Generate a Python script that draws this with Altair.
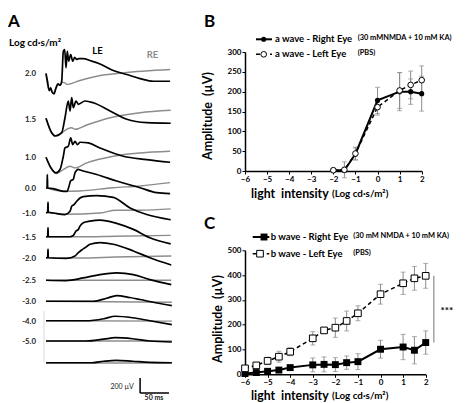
import altair as alt
import pandas as pd

FONT = "Lato"
GRAY = "#8c8c8c"
NB = "\u00a0"

# ---------------- Panel A: ERG traces (t in ms, amplitude in µV relative to baseline)
levels = ["2.0", "1.5", "1.0", "0.0", "-1.0", "-1.5", "-2.0", "-2.5", "-3.0", "-4.0", "-5.0", ""]
offsets = [-430, -1040, -1550, -1960, -2290, -2610, -2890, -3190, -3470, -3730, -4000, -4290]

LE_20 = [(0, -4), (2.3, -97), (5.7, -231), (8.1, -196), (10.4, -249), (13.9, -276), (17.3, -196),
         (20.8, -143), (24.3, -160), (27.2, -107), (30, 293), (32.4, 316), (34.7, 71), (36.9, 293),
         (39.3, 160), (42.8, 249), (46.3, 160), (49.7, 213), (53.2, 183), (56.7, 196), (64.6, 196),
         (76.3, 169), (93.6, 124), (116.6, 36), (139.8, -17), (162.9, -71), (186, -107), (215, -107)]
RE_20 = [(0, 0), (1.4, -93), (5.7, -227), (8.1, -200), (10.4, -253), (12.7, -263), (17.3, -200),
         (20.8, -147), (24.3, -160), (27.7, -120), (32.9, -129), (36, -150), (41.6, -143),
         (58.9, -97), (87.8, -40), (133, 4), (215, 49)]
LE_15 = [(0, 10), (9.8, -183), (15.6, -227), (27.2, -183), (32.9, 17), (38.6, 240), (41.6, 107),
         (44.5, 284), (47.3, 151), (52, 240), (56, 196), (67.6, 240), (82, 217), (111, 107),
         (140, -4), (174.5, -49), (216, -57)]
RE_15 = [(0, 10), (9.8, -183), (18.5, -227), (35.9, -137), (44.5, -116), (50.3, -137),
         (70.5, -80), (111, 17), (163, 84), (216, 116)]
LE_10 = [(0, 0), (8.7, -144), (17.3, -209), (24.3, -164), (30, 13), (32.9, 124), (38.6, 147),
         (42.8, 258), (46.3, 169), (50.3, 213), (54.3, 169), (59, 200), (73.4, 191), (93.6, 124),
         (133.9, 13), (174.5, -31), (215, -67)]
RE_10 = [(0, 0), (8.7, -144), (18.5, -217), (30, -164), (41.6, -120), (50.3, -142), (70.5, -76),
         (116.6, 13), (163, 57), (215, 80)]
LE_00 = [(0, 0), (2, 0), (2.3, 180), (2.8, 0), (12.7, -9), (30, -44), (36.4, -44), (40, 27),
         (42.5, 93), (47.3, 116), (50.3, 204), (56, 249), (59, 240), (64.6, 227), (87.8, 180),
         (122.4, 93), (162.9, 4), (191.7, -62), (215, -76)]
RE_00 = [(0, 0), (2, 0), (2.3, 180), (2.8, 0), (30, -44), (59, -40), (116, 4), (163, 27), (215, 71)]
LE_M10 = [(0, 0), (2.9, 7), (3.5, 140), (4, 7), (12.7, -3), (32.9, -24), (41.6, 20), (44.5, 87),
          (48.5, 109), (53.2, 153), (58.9, 196), (64.6, 216), (87.8, 229), (116.6, 204),
          (145.6, 64), (174.5, -24), (216, -93)]
RE_M10 = [(0, 0), (2.9, 7), (3.5, 140), (4, 7), (12.7, -3), (32.9, -20), (93.6, -3), (121, 33),
          (162.9, 33), (216, 51)]
LE_M15 = [(0, 0), (2.9, 0), (3.5, 120), (4, 0), (41.6, 0), (47.3, 18), (52, 76), (56, 98),
          (58.9, 142), (64.6, 187), (76.3, 209), (93.6, 222), (122.4, 178), (151.3, 98),
          (180, -13), (216, -95)]
RE_M15 = [(0, 0), (2.9, 0), (3.5, 120), (4, 0), (60, 0), (120, 7), (216, 18)]
LE_M20 = [(0, 0), (2.9, 0), (3.5, 113), (4, 0), (36, -7), (50.3, 24), (56, 67), (61.7, 104),
          (67.6, 133), (76.3, 180), (93.6, 201), (116.6, 180), (151.3, 91), (180, 0), (217, -96)]
RE_M20 = [(0, 0), (2.9, 0), (3.5, 113), (4, 0), (60, -3), (120, 10), (217, 24)]
LE_M25 = [(0, 0), (35, -4), (64.6, 31), (93.6, 76), (122.4, 98), (151.3, 76), (180, 9), (217, -58)]
RE_M25 = [(0, 0), (217, 0)]
LE_M30 = [(0, 0), (82, 0), (105, 40), (122.5, 76), (145, 50), (163, 23), (190, -20), (218, -58)]
RE_M30 = [(0, 0), (218, -13)]
LE_M40 = [(0, 0), (70, 0), (100, 27), (120, 60), (150, 40), (180, 0), (218, -51)]
RE_M40 = [(0, 0), (218, -5)]
LE_M50 = [(0, 0), (70, 0), (100, 25), (120, 44), (150, 30), (180, 0), (218, -13)]
RE_M50 = [(0, 0), (218, 0)]
LE_X = [(0, 0), (80, 0), (100, 20), (122, 33), (150, 20), (180, 5), (218, 0)]
RE_X = [(0, -3), (218, -3)]

le_traces = [LE_20, LE_15, LE_10, LE_00, LE_M10, LE_M15, LE_M20, LE_M25, LE_M30, LE_M40, LE_M50, LE_X]
re_traces = [RE_20, RE_15, RE_10, RE_00, RE_M10, RE_M15, RE_M20, RE_M25, RE_M30, RE_M40, RE_M50, RE_X]

bar_t0, bar_v0 = 163, -4693   # scale bar corner
bar_ms, bar_uv = 50, 200
frame_t, frame_v0, frame_v1 = -3.5, -3600, -4290   # faint left edge line of lower traces

# ---------------- Panel B: a wave
xB_vals = [-2, -1.5, -1, 0, 1, 1.5, 2]
aR = [2, 2, 43, 178, 200, 200, 195]
aR_err = [3, 5, 15, 33, 48, 32, 44]
aL = [2, 3, 44, 161, 203, 217, 229]
aL_err = [3, 20, 16, 20, 45, 35, 36]

# ---------------- Panel C: b wave
xC_vals = [-6, -5.5, -5, -4.5, -4, -3, -2.5, -2, -1.5, -1, 0, 1, 1.5, 2]
bL = [24, 36, 54, 71, 91, 145, 177, 188, 215, 246, 323, 367, 387, 397]
bL_err = [8, 10, 15, 22, 16, 27, 10, 39, 40, 30, 40, 45, 48, 50]
bR = [3, 7, 12, 17, 27, 38, 40, 39, 47, 51, 101, 110, 97, 128]
bR_err = [3, 4, 6, 8, 6, 28, 30, 28, 27, 32, 36, 51, 55, 47]

x_ticks = [-6, -5, -4, -3, -2, -1, 0, 1, 2]
yB_ticks = [0, 50, 100, 150, 200, 250, 300]
yC_ticks = [0, 100, 200, 300, 400, 500]

one = pd.DataFrame({"k": [0]})


def txt(s, x, y, size, color="black", align="left", baseline="middle", angle=None, weight="bold"):
    kw = dict(align=align, baseline=baseline, fontSize=size, font=FONT, fontWeight=weight, color=color)
    if angle is not None:
        kw["angle"] = angle
    return alt.Chart(one).mark_text(**kw).encode(x=alt.value(x), y=alt.value(y), text=alt.value(s))


# ======== Panel A
rows = []
for i, off in enumerate(offsets):
    for eye, tr in (("RE", re_traces[i]), ("LE", le_traces[i])):
        for t, v in tr:
            rows.append({"trace": f"{eye}{i}", "eye": eye, "t": t, "v": off + v})
df_a = pd.DataFrame(rows)

scA_x = alt.Scale(domain=[0, 220], nice=False, zero=False)
scA_y = alt.Scale(domain=[-4733, -147], nice=False, zero=False)
xA = alt.X("t:Q", scale=scA_x, axis=None)
yA = alt.Y("v:Q", scale=scA_y, axis=None)

frame = alt.Chart(pd.DataFrame({"t": [frame_t], "v": [frame_v0], "v2": [frame_v1]})).mark_rule(
    color="#d9d9d9", strokeWidth=1).encode(x=xA, y=yA, y2="v2:Q")
re_lines = alt.Chart(df_a[df_a.eye == "RE"]).mark_line(
    color=GRAY, strokeWidth=1.4, interpolate="monotone").encode(x=xA, y=yA, detail="trace:N")
le_lines = alt.Chart(df_a[df_a.eye == "LE"]).mark_line(
    color="black", strokeWidth=1.7, interpolate="monotone").encode(x=xA, y=yA, detail="trace:N")

df_lab = pd.DataFrame({"lab": levels[:-1], "v": offsets[:-1]})
lab_a = alt.Chart(df_lab).mark_text(align="right", baseline="middle", fontSize=7.8, font=FONT,
                                    fontWeight="bold", color="#222", dy=1).encode(
    x=alt.value(-10), y=yA, text="lab:N")

df_bv = pd.DataFrame({"t": [bar_t0], "v": [bar_v0], "v2": [bar_v0 + bar_uv]})
df_bh = pd.DataFrame({"t": [bar_t0], "t2": [bar_t0 + bar_ms], "v": [bar_v0]})
bar_v = alt.Chart(df_bv).mark_rule(color="black", strokeWidth=1.5).encode(x=xA, y=yA, y2="v2:Q")
bar_h = alt.Chart(df_bh).mark_rule(color="black", strokeWidth=1.5).encode(x=xA, x2="t2:Q", y=yA)
df_bt1 = pd.DataFrame({"t": [bar_t0 - 11], "v": [bar_v0 + 85], "s": [f"{bar_uv} µV"]})
df_bt2 = pd.DataFrame({"t": [bar_t0 + bar_ms / 2 - 1], "v": [bar_v0 - 70], "s": [f"{bar_ms} ms"]})
bar_t1 = alt.Chart(df_bt1).mark_text(align="right", baseline="middle", fontSize=7, font=FONT,
                                     color="#222").encode(x=xA, y=yA, text="s:N")
bar_t2 = alt.Chart(df_bt2).mark_text(align="center", baseline="middle", fontSize=7, font=FONT,
                                     fontWeight="bold", color="#222").encode(x=xA, y=yA, text="s:N")

panelA = alt.layer(
    frame, re_lines, le_lines, lab_a, bar_v, bar_h, bar_t1, bar_t2,
    txt("A", -38, -38, 17, baseline="top"),
    txt("Log cd·s/m²", -37, -9.5, 10),
    txt("LE", 51.5, -1, 9.5, align="center"),
    txt("RE", 106.5, 2.5, 9.5, color=GRAY, align="center"),
).properties(width=127, height=344)


# ======== Panels B and C helpers
def axis(vals):
    return alt.Axis(values=vals, title=None, grid=False, domainColor="black", domainWidth=1.5,
                    tickColor="black", tickSize=3, tickWidth=1, labelFont=FONT, labelFontWeight="bold",
                    labelFontSize=8, labelColor="black", labelPadding=1, labelFlush=False)


def encs(sx, sy, yt):
    ax, ay = axis(x_ticks), axis(yt)
    X = lambda f: alt.X(f"{f}:Q", scale=sx, axis=ax)
    Y = lambda f: alt.Y(f"{f}:Q", scale=sy, axis=ay)
    return X, Y


def series_layers(df, X, Y, shape, size_f, size_o):
    base = alt.Chart(df)
    err = base.mark_rule(color=GRAY, strokeWidth=1).encode(x=X("x"), y=Y("lo"), y2="hi:Q")
    cap_lo = base.mark_tick(orient="horizontal", size=5, thickness=1, color=GRAY).encode(
        x=X("x"), y=Y("lo"))
    cap_hi = base.mark_tick(orient="horizontal", size=5, thickness=1, color=GRAY).encode(
        x=X("x"), y=Y("hi"))
    line_l = base.transform_filter("datum.s == 'L'").mark_line(
        color="black", strokeWidth=1.5, strokeDash=[4, 3]).encode(x=X("x"), y=Y("y"))
    line_r = base.transform_filter("datum.s == 'R'").mark_line(
        color="black", strokeWidth=2).encode(x=X("x"), y=Y("y"))
    pts_r = base.transform_filter("datum.s == 'R'").mark_point(
        shape=shape, filled=True, color="black", size=size_f, opacity=1).encode(x=X("x"), y=Y("y"))
    pts_l = base.transform_filter("datum.s == 'L'").mark_point(
        shape=shape, filled=True, fill="white", stroke="black", strokeWidth=1, size=size_o,
        opacity=1).encode(x=X("x"), y=Y("y"))
    return [err, cap_lo, cap_hi, line_l, line_r, pts_r, pts_l]


def make_df(xs, r, re_, l, le_):
    rows = []
    for x, v, e in zip(xs, r, re_):
        rows.append({"x": x, "y": v, "lo": v - e, "hi": v + e, "s": "R"})
    for x, v, e in zip(xs, l, le_):
        rows.append({"x": x, "y": v, "lo": v - e, "hi": v + e, "s": "L"})
    return pd.DataFrame(rows)


def legend_row(y, x0, x1, xs, dashed, shape, filled, size, label, note, xt, xn):
    ln_kw = dict(color="black", strokeWidth=2 if not dashed else 1.5)
    if dashed:
        ln_kw["strokeDash"] = [4, 3]
    ln = alt.Chart(one).mark_rule(**ln_kw).encode(x=alt.value(x0), x2=alt.value(x1), y=alt.value(y))
    if filled:
        pt = alt.Chart(one).mark_point(shape=shape, filled=True, color="black", size=size, opacity=1)
    else:
        pt = alt.Chart(one).mark_point(shape=shape, filled=True, fill="white", stroke="black",
                                       strokeWidth=1, size=size, opacity=1)
    pt = pt.encode(x=alt.value(xs), y=alt.value(y))
    return [ln, pt, txt(label, xt, y, 9.5), txt(note, xn, y - 1, 7.4)]


SEP = NB + "-" + NB
XT_MAIN = "light" + NB * 2 + "intensity"

# ======== Panel B
dfB = make_df(xB_vals, aR, aR_err, aL, aL_err)
sxB = alt.Scale(domain=[-6, 2], nice=False, zero=False)
syB = alt.Scale(domain=[0, 300], nice=False, zero=False)
XB, YB = encs(sxB, syB, yB_ticks)
panelB = alt.layer(
    *series_layers(dfB, XB, YB, "circle", 26, 32),
    *legend_row(-12.7, 11, 27, 18.7, False, "circle", True, 26, "a wave" + SEP + "Right Eye",
                "(30 mMNMDA + 10 mM KA)", 30, 112.7),
    *legend_row(2.3, 11, 27, 18.7, True, "circle", False, 32, "a wave" + SEP + "Left Eye",
                "(PBS)", 30, 112.7),
    txt("B", -41, -38, 17, baseline="top"),
    txt("Amplitude" + NB * 2 + "(µV)", -37, 64, 12.5, align="center", angle=270),
    txt(XT_MAIN, 6, 142.3, 12.3),
    txt("(Log cd·s/m²)", 87, 142.3, 9.8),
).properties(width=176.7, height=119)

# ======== Panel C
dfC = make_df(xC_vals, bR, bR_err, bL, bL_err)
sxC = alt.Scale(domain=[-6, 2], nice=False, zero=False)
syC = alt.Scale(domain=[0, 500], nice=False, zero=False)
XC, YC = encs(sxC, syC, yC_ticks)
sig = pd.DataFrame({"x": [2.36], "lo": [bR[-1]], "hi": [bL[-1]], "xs": [2.66],
                    "mid": [(bR[-1] + bL[-1]) / 2], "s": ["***"]})
sig_line = alt.Chart(sig).mark_rule(color=GRAY, strokeWidth=1.2).encode(
    x=XC("x"), y=YC("lo"), y2="hi:Q")
sig_txt = alt.Chart(sig).mark_text(align="left", baseline="middle", fontSize=10, font=FONT,
                                   fontWeight="bold", color="black", dy=2).encode(
    x=XC("xs"), y=YC("mid"), text="s:N")
panelC = alt.layer(
    *series_layers(dfC, XC, YC, "square", 48, 44),
    sig_line, sig_txt,
    *legend_row(-13.3, 7.7, 24.3, 19, False, "square", True, 48, "b wave" + SEP + "Right Eye",
                "(30 mM NMDA + 10 mM KA)", 25.7, 108.3),
    *legend_row(3.4, 7.7, 24.3, 15, True, "square", False, 44, "b wave" + SEP + "Left Eye",
                "(PBS)", 25.7, 108.3),
    txt("C", -41, -34.3, 17, baseline="top"),
    txt("Amplitude" + NB * 2 + "(µV)", -27, 68.7, 12.5, align="center", angle=270),
    txt(XT_MAIN, 6, 145.5, 12.3),
    txt("(Log cd·s/m²)", 87, 145.5, 9.8),
).properties(width=180.7, height=124)

right = alt.vconcat(panelB, panelC, spacing=79.3, bounds="flush")
chart = alt.hconcat(panelA, right, spacing=72, bounds="flush").properties(
    padding={"left": 0, "top": 5, "right": 0, "bottom": 0}
).configure_view(stroke=None)

chart.save("out.html", embed_options={"renderer": "svg", "actions": False})
